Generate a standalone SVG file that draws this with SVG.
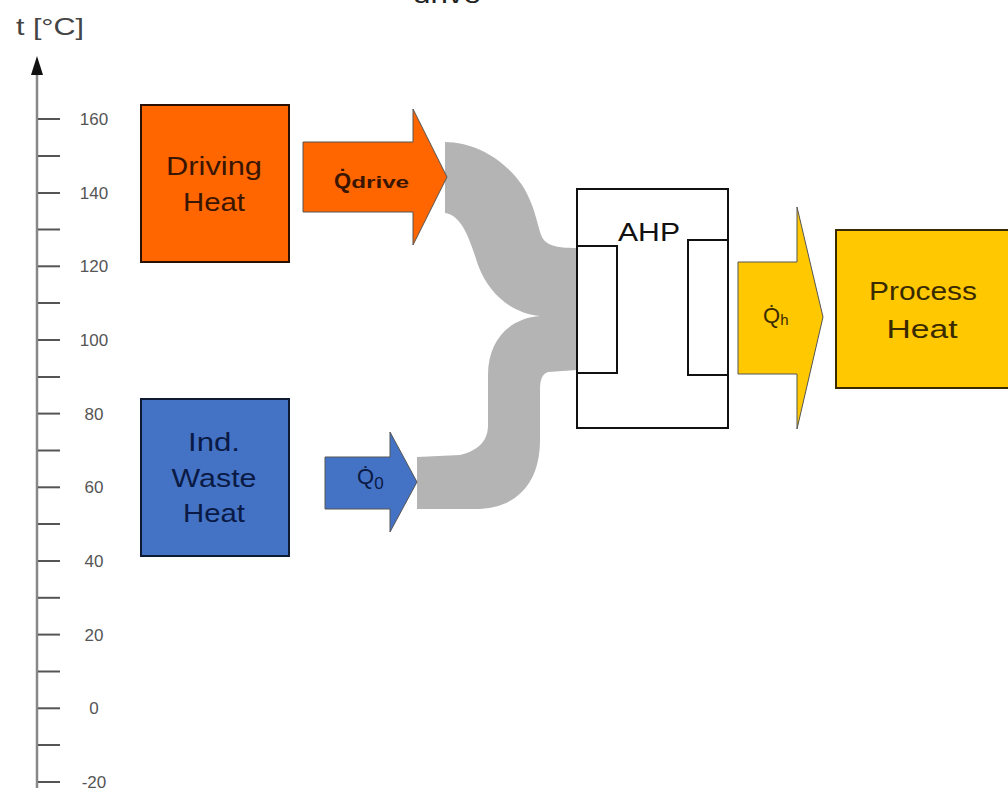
<svg xmlns="http://www.w3.org/2000/svg" width="1008" height="793" viewBox="0 0 1008 793">
<style>
.lbl{font-family:"Liberation Sans",Arial,sans-serif;font-size:17px;fill:#555;text-anchor:middle}
.tick{stroke:#555;stroke-width:2}
.box{stroke-width:2}
.big{font-family:"Liberation Sans",Arial,sans-serif;font-size:25px;text-anchor:middle}
.q{font-family:"Liberation Sans",Arial,sans-serif;font-weight:bold}
</style>
<rect width="1008" height="793" fill="#fff"/>
<text x="413" y="3" font-family="Liberation Sans,Arial,sans-serif" font-size="26" fill="#222" textLength="68" lengthAdjust="spacingAndGlyphs">drive</text>
<g id="axis">
<text x="16" y="35" font-family="Liberation Sans,Arial,sans-serif" font-size="24" fill="#444" textLength="68" lengthAdjust="spacingAndGlyphs">t [°C]</text>
<line x1="37" y1="70" x2="37" y2="788" stroke="#888" stroke-width="2.5"/>
<polygon points="37,56 43,75 31,75" fill="#111"/>
<g class="tick">
<line x1="38" y1="119" x2="60" y2="119"/><line x1="38" y1="156" x2="60" y2="156"/><line x1="38" y1="193" x2="60" y2="193"/><line x1="38" y1="229.5" x2="60" y2="229.5"/><line x1="38" y1="266.3" x2="60" y2="266.3"/><line x1="38" y1="303" x2="60" y2="303"/><line x1="38" y1="340" x2="60" y2="340"/><line x1="38" y1="377" x2="60" y2="377"/><line x1="38" y1="413.6" x2="60" y2="413.6"/><line x1="38" y1="450.5" x2="60" y2="450.5"/><line x1="38" y1="487.3" x2="60" y2="487.3"/><line x1="38" y1="524" x2="60" y2="524"/><line x1="38" y1="561" x2="60" y2="561"/><line x1="38" y1="597.8" x2="60" y2="597.8"/><line x1="38" y1="634.6" x2="60" y2="634.6"/><line x1="38" y1="671.5" x2="60" y2="671.5"/><line x1="38" y1="708.3" x2="60" y2="708.3"/><line x1="38" y1="745" x2="60" y2="745"/><line x1="38" y1="782" x2="60" y2="782"/>
</g>
<text class="lbl" x="94" y="125">160</text>
<text class="lbl" x="94" y="199">140</text>
<text class="lbl" x="94" y="272">120</text>
<text class="lbl" x="94" y="346">100</text>
<text class="lbl" x="94" y="420">80</text>
<text class="lbl" x="94" y="493">60</text>
<text class="lbl" x="94" y="567">40</text>
<text class="lbl" x="94" y="641">20</text>
<text class="lbl" x="94" y="714">0</text>
<text class="lbl" x="94" y="788">-20</text>
</g>
<g id="connectors">
<path d="M445,142 C475,142 505,160 522,185 C535,205 537,225 542,237 C546,245 555,248 577,248 L577,370 L548,372 C542,374 540,380 540,390 L540,440 C540,485 515,509 475,509 L417,509 L417,457 L460,455 C480,450 488,440 488,425 L488,375 C488,340 510,318 540,316 C515,314 490,297 478,265 C470,240 462,215 445,213 Z" fill="#b4b4b4"/>
<g id="q-drive">
<polygon points="303,142 413,142 413,109 447,177 413,245 413,212 303,212" fill="#ff6600" stroke="#555" stroke-width="1"/>
<text class="q" x="334" y="188" fill="#3a1600"><tspan font-size="22">Q&#x307;</tspan><tspan font-size="16" textLength="58" lengthAdjust="spacingAndGlyphs">drive</tspan></text>
</g>
<g id="q-0">
<polygon points="325,457 390,457 390,432 417,482 390,532 390,509 325,509" fill="#4472c4" stroke="#555" stroke-width="1"/>
<text x="357" y="484" font-family="Liberation Sans,Arial,sans-serif" fill="#0a1a44"><tspan font-size="22">Q&#x307;</tspan><tspan font-size="17" dy="5">0</tspan></text>
</g>
<g id="q-h">
<polygon points="738,262 797,262 797,207 823,317 797,429 797,374 738,374" fill="#ffc800" stroke="#555" stroke-width="1"/>
<text x="763" y="323" font-family="Liberation Sans,Arial,sans-serif" fill="#3a2a00"><tspan font-size="22">Q&#x307;</tspan><tspan font-size="15" dy="2">h</tspan></text>
</g>
</g>
<g id="driving-heat">
<rect class="box" x="141" y="105" width="148" height="157" fill="#ff6600" stroke="#2a1000"/>
<text class="big" x="214" y="175" fill="#3a1600" textLength="96" lengthAdjust="spacingAndGlyphs">Driving</text>
<text class="big" x="214" y="211" fill="#3a1600" textLength="62" lengthAdjust="spacingAndGlyphs">Heat</text>
</g>
<g id="waste-heat">
<rect class="box" x="141" y="399" width="148" height="157" fill="#4472c4" stroke="#0e1a33"/>
<text class="big" x="214" y="451" fill="#0a1a44" textLength="52" lengthAdjust="spacingAndGlyphs">Ind.</text>
<text class="big" x="214" y="487" fill="#0a1a44" textLength="85" lengthAdjust="spacingAndGlyphs">Waste</text>
<text class="big" x="214" y="522" fill="#0a1a44" textLength="62" lengthAdjust="spacingAndGlyphs">Heat</text>
</g>
<g id="ahp">
<rect x="577" y="189" width="151" height="239" fill="none" stroke="#111" stroke-width="2"/>
<rect x="577" y="246" width="40" height="127" fill="#fff" stroke="#111" stroke-width="2"/>
<rect x="688" y="240" width="40" height="135" fill="#fff" stroke="#111" stroke-width="2"/>
<text class="big" x="649" y="241" fill="#111" textLength="62" lengthAdjust="spacingAndGlyphs">AHP</text>
</g>
<g id="process-heat">
<rect class="box" x="836" y="230" width="180" height="158" fill="#ffc800" stroke="#3a2a00"/>
<text class="big" x="923" y="300" fill="#3a2a00" textLength="108" lengthAdjust="spacingAndGlyphs">Process</text>
<text class="big" x="922" y="338" fill="#3a2a00" textLength="71" lengthAdjust="spacingAndGlyphs">Heat</text>
</g>
</svg>
